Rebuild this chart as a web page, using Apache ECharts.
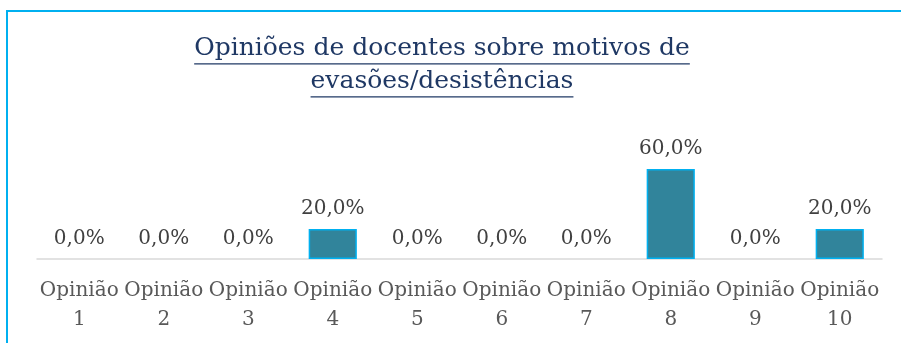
<!DOCTYPE html>
<html>
<head>
<meta charset="utf-8">
<script src="https://cdn.jsdelivr.net/npm/echarts@6/dist/echarts.min.js"></script>
<style>
  html, body { margin: 0; padding: 0; background: #ffffff; }
  #chart { width: 901px; height: 343px; }
</style>
</head>
<body>
<div id="chart"></div>
<script>
// Opinions of teachers about reasons for dropout (share of answers)
const titleLines = ['Opiniões de docentes sobre motivos de', 'evasões/desistências'];
const categories = ['Opinião 1', 'Opinião 2', 'Opinião 3', 'Opinião 4', 'Opinião 5',
                    'Opinião 6', 'Opinião 7', 'Opinião 8', 'Opinião 9', 'Opinião 10'];
const shares = [0, 0, 0, 20, 0, 0, 0, 60, 0, 20];

const FONT = '"DejaVu Serif", "Liberation Serif", serif';
const TITLE_SIZE = 25;
const TITLE_COLOR = '#1F3864';
const TITLE_CX = 442;
const TITLE_BASELINES = [61, 94];

const ctx = document.createElement('canvas').getContext('2d');
ctx.font = TITLE_SIZE + 'px ' + FONT;

// title text lines with an underline beneath each
const titleGraphics = [];
titleLines.forEach(function (line, i) {
  const w = ctx.measureText(line).width;
  titleGraphics.push({
    type: 'text',
    x: TITLE_CX,
    y: TITLE_BASELINES[i],
    silent: true,
    style: {
      text: line,
      font: TITLE_SIZE + 'px ' + FONT,
      fill: TITLE_COLOR,
      textAlign: 'center',
      textVerticalAlign: 'bottom',
      verticalAlign: 'alphabetic',
      textBaseline: 'alphabetic'
    }
  });
  titleGraphics.push({
    type: 'rect',
    silent: true,
    shape: { x: TITLE_CX - w / 2, y: TITLE_BASELINES[i] + 2.2, width: w, height: 1.3 },
    style: { fill: TITLE_COLOR }
  });
});

// zero-height bars get no outline so only their label shows
const barData = shares.map(function (v) {
  return v === 0 ? { value: v, itemStyle: { borderWidth: 0 } } : v;
});

const chart = echarts.init(document.getElementById('chart'), null, { renderer: 'canvas' });
chart.setOption({
  backgroundColor: '#ffffff',
  animation: false,
  grid: { left: 37, right: 19, top: 154, bottom: 84, containLabel: false },
  xAxis: {
    type: 'category',
    data: categories,
    axisLine: { show: true, lineStyle: { color: '#D9D9D9', width: 1.5 } },
    axisTick: { show: false },
    axisLabel: {
      interval: 0,
      margin: 17,
      fontFamily: FONT,
      fontSize: 20,
      lineHeight: 29,
      color: '#595959',
      formatter: function (v) { return v.replace(' ', '\n'); }
    }
  },
  yAxis: {
    type: 'value',
    min: 0,
    max: 70,
    show: false,
    splitLine: { show: false }
  },
  series: [{
    type: 'bar',
    data: barData,
    barWidth: '57%',
    itemStyle: { color: '#31849B', borderColor: '#00B0F0', borderWidth: 1.5 },
    label: {
      show: true,
      position: 'top',
      distance: 10,
      fontFamily: FONT,
      fontSize: 20,
      color: '#404040',
      formatter: function (p) { return p.value.toFixed(1).replace('.', ',') + '%'; }
    }
  }],
  graphic: [{
    type: 'rect',
    silent: true,
    shape: { x: 7, y: 11, width: 1000, height: 500 },
    style: { fill: 'none', stroke: '#00B0F0', lineWidth: 2 }
  }].concat(titleGraphics)
});
</script>
</body>
</html>
